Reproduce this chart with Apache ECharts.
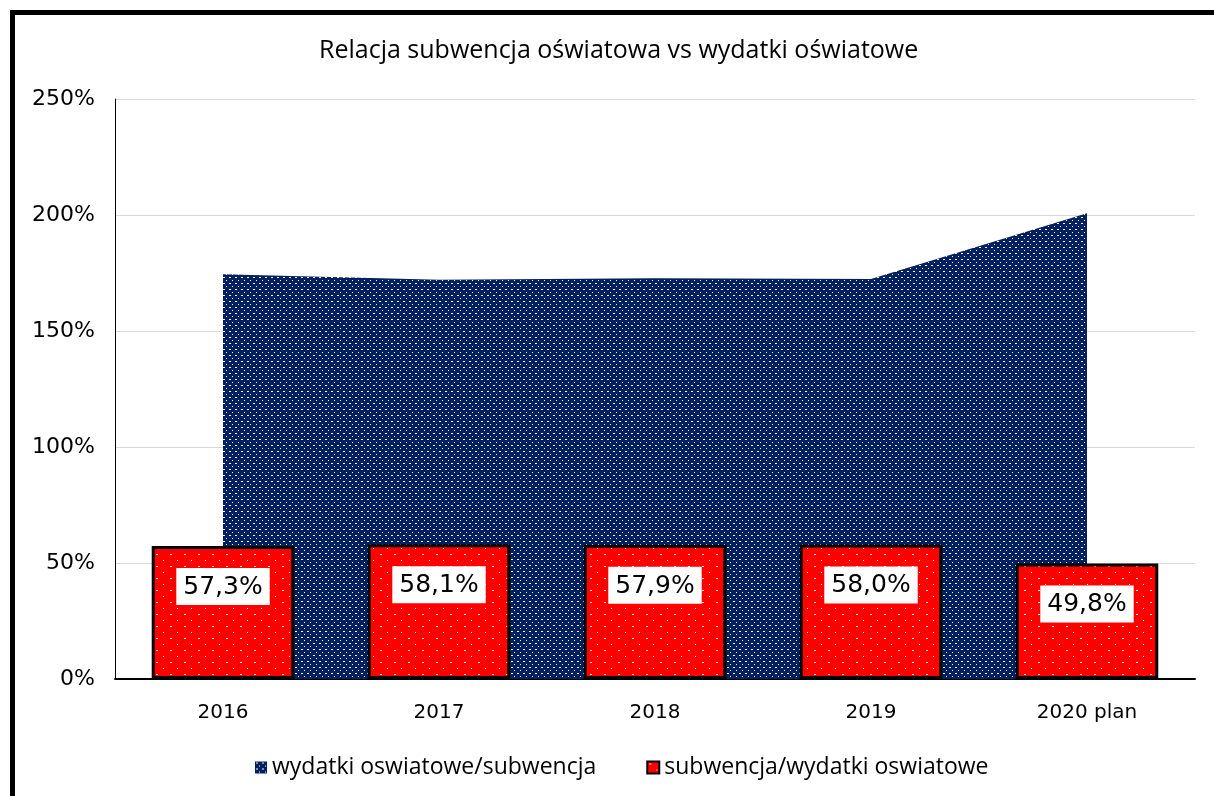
<!DOCTYPE html>
<html>
<head>
<meta charset="utf-8">
<script src="https://cdn.jsdelivr.net/npm/echarts@6/dist/echarts.min.js"></script>
<style>
  html, body { margin: 0; padding: 0; background: #fff; }
  #main { width: 1214px; height: 796px; }
</style>
</head>
<body>
<div id="main"></div>
<script>
// dane z wykresu
const years = ['2016', '2017', '2018', '2019', '2020 plan'];
const wydatkiNaSubwencje = [174.5, 172.1, 172.7, 172.4, 200.8];
const subwencjaNaWydatki = [57.3, 58.1, 57.9, 58.0, 49.8];
const yTicks = [0, 50, 100, 150, 200, 250];

// wzorki w kropki jak w excelu
function makePattern(bg, w, h, dots) {
  let c = document.createElement('canvas');
  c.width = w; c.height = h;
  let ctx = c.getContext('2d');
  ctx.fillStyle = bg;
  ctx.fillRect(0, 0, w, h);
  ctx.fillStyle = '#ffffff';
  dots.forEach(d => ctx.fillRect(d[0], d[1], d[2], 1));
  return c;
}
let navyPat = makePattern('#002060', 6, 6, [[1, 1, 2], [4, 4, 1]]);
let redPat = makePattern('#ff0000', 14, 12, [[2, 2, 2], [9, 8, 1]]);

let myChart = echarts.init(document.getElementById('main'));

let option = {
  animation: false,
  backgroundColor: '#fff',
  graphic: [
    {
      type: 'rect',
      shape: { x: 12.5, y: 12.5, width: 1400, height: 1000 },
      style: { fill: 'none', stroke: '#000', lineWidth: 5 },
      silent: true
    }
  ],
  title: {
    text: 'Relacja subwencja oświatowa vs wydatki oświatowe',
    left: 314,
    top: 33,
    textStyle: { fontFamily: 'Open Sans', fontWeight: 'normal', fontSize: 25, color: '#000' }
  },
  legend: {
    top: 751,
    left: 250,
    icon: 'rect',
    itemWidth: 12,
    itemHeight: 12,
    itemGap: 50,
    textStyle: { fontFamily: 'Open Sans', fontSize: 23, color: '#000' },
    data: ['wydatki oswiatowe/subwencja', 'subwencja/wydatki oswiatowe']
  },
  grid: { left: 115, right: 19, top: 99, bottom: 117 },
  xAxis: {
    type: 'category',
    data: years,
    boundaryGap: true,
    axisTick: { show: false },
    axisLine: { lineStyle: { color: '#000', width: 2 } },
    axisLabel: { color: '#000', fontFamily: 'DejaVu Sans', fontSize: 20, margin: 24 }
  },
  yAxis: {
    type: 'value',
    min: yTicks[0],
    max: yTicks[yTicks.length - 1],
    interval: 50,
    axisLine: { show: true, lineStyle: { color: '#000', width: 1 } },
    axisTick: { show: false },
    splitLine: { lineStyle: { color: '#d9d9d9', width: 1 } },
    axisLabel: { color: '#000', fontFamily: 'DejaVu Sans', fontSize: 22, margin: 20, formatter: '{value}%' }
  },
  series: [
    {
      name: 'wydatki oswiatowe/subwencja',
      type: 'line',
      data: wydatkiNaSubwencje,
      symbol: 'none',
      lineStyle: { width: 0 },
      itemStyle: { color: { image: navyPat, repeat: 'repeat' } },
      areaStyle: { color: { image: navyPat, repeat: 'repeat' }, opacity: 1 },
      z: 1
    },
    {
      name: 'subwencja/wydatki oswiatowe',
      type: 'bar',
      data: subwencjaNaWydatki,
      barWidth: '66%',
      itemStyle: { color: { image: redPat, repeat: 'repeat' }, borderColor: '#000', borderWidth: 3 },
      label: {
        show: true,
        position: 'insideTop',
        distance: 22,
        backgroundColor: '#fff',
        padding: [7, 7, 5, 7],
        color: '#000',
        fontFamily: 'DejaVu Sans',
        fontSize: 25,
        formatter: p => p.value.toFixed(1).replace('.', ',') + '%'
      },
      z: 3
    }
  ]
};

myChart.setOption(option);
</script>
</body>
</html>
